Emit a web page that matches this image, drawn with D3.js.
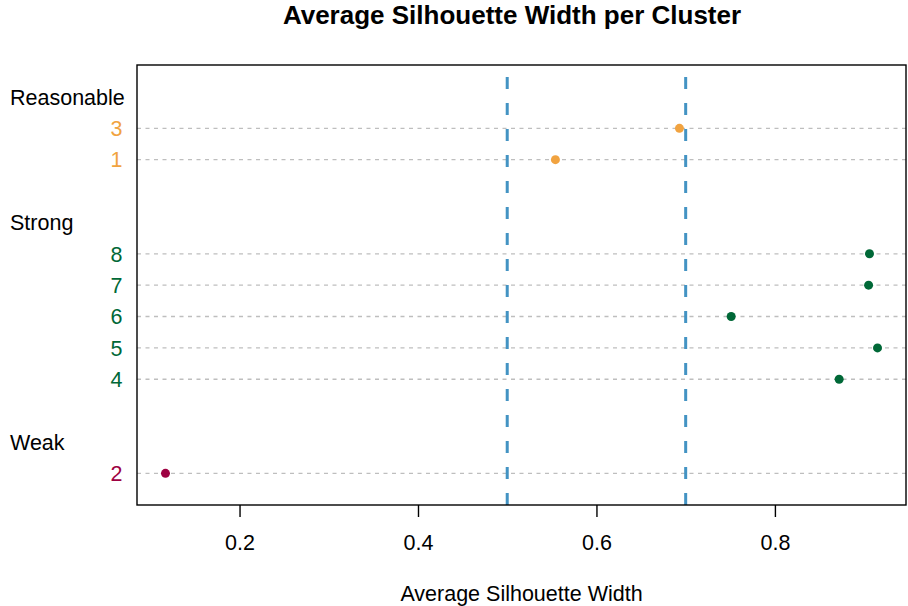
<!DOCTYPE html>
<html>
<head>
<meta charset="utf-8">
<script src="https://cdn.jsdelivr.net/npm/d3@7"></script>
<style>
  body { margin: 0; background: #fff; }
  svg { display: block; font-family: "Liberation Sans", Arial, Helvetica, sans-serif; }
</style>
</head>
<body>
<svg id="chart" width="908" height="606"></svg>
<script>
// ---- data ----
const groups = ["Reasonable", "Strong", "Weak"];
const groupColors = ["#F1A340", "#006837", "#9E0142"];
const clusterLabels = [["3", "1"], ["8", "7", "6", "5", "4"], ["2"]];
const clusterValues = [[0.693, 0.554], [0.906, 0.905, 0.751, 0.915, 0.872], [0.117]];
const thresholds = [0.5, 0.7];
const xTicks = [0.2, 0.4, 0.6, 0.8];
const title = "Average Silhouette Width per Cluster";
const xTitle = "Average Silhouette Width";

// ---- layout (R dotchart style positions) ----
const svg = d3.select("#chart");
const box = { left: 137, right: 906, top: 65, bottom: 505 };

const rows = [];
let pos = 0;
groups.forEach((g, gi) => {
  if (gi > 0) pos += 1; // gap line
  rows.push({ type: "group", label: g, pos: pos });
  pos += 1;
  clusterLabels[gi].forEach((lab, i) => {
    rows.push({ type: "item", label: lab, value: clusterValues[gi][i], color: groupColors[gi], pos: pos });
    pos += 1;
  });
});
const nRows = pos; // 13
rows.forEach(r => r.y = nRows - r.pos);

const allVals = clusterValues.flat();
const ext = d3.extent(allVals);
const pad = (ext[1] - ext[0]) * 0.04;
const x = d3.scaleLinear().domain([ext[0] - pad, ext[1] + pad]).range([box.left, box.right]);
const y = d3.scaleLinear().domain([0, nRows + 1]).range([box.bottom - 0.3, box.top + 0.6]);

const items = rows.filter(r => r.type === "item");
const grps = rows.filter(r => r.type === "group");

// gray dotted guide lines
svg.append("g").selectAll("line").data(items).join("line")
  .attr("x1", box.left).attr("x2", box.right)
  .attr("y1", d => y(d.y)).attr("y2", d => y(d.y))
  .attr("stroke", "#BEBEBE").attr("stroke-width", 1.3)
  .attr("stroke-dasharray", "4,4.5");

// points
svg.append("g").selectAll("circle").data(items).join("circle")
  .attr("cx", d => x(d.value)).attr("cy", d => y(d.y))
  .attr("r", 4.5).attr("fill", d => d.color);

// item labels
svg.append("g").selectAll("text").data(items).join("text")
  .attr("x", 122.5).attr("y", d => y(d.y) + 7.8)
  .attr("text-anchor", "end").attr("font-size", 21.5)
  .attr("fill", d => d.color).text(d => d.label);

// group labels
svg.append("g").selectAll("text").data(grps).join("text")
  .attr("x", 10).attr("y", d => y(d.y) + 7.8)
  .attr("text-anchor", "start").attr("font-size", 21.5)
  .attr("fill", "#000").text(d => d.label);

// threshold dashed lines (dash pattern starts at the bottom)
svg.append("g").selectAll("line").data(thresholds).join("line")
  .attr("x1", d => x(d)).attr("x2", d => x(d))
  .attr("y1", box.bottom).attr("y2", box.top)
  .attr("stroke", "#4393C3").attr("stroke-width", 3)
  .attr("stroke-dasharray", "12,14");

// plot box
svg.append("rect")
  .attr("x", box.left).attr("y", box.top)
  .attr("width", box.right - box.left).attr("height", box.bottom - box.top)
  .attr("fill", "none").attr("stroke", "#000").attr("stroke-width", 1.4);

// x axis
const axis = svg.append("g").attr("transform", `translate(0,${box.bottom})`)
  .call(d3.axisBottom(x).tickValues(xTicks).tickFormat(d3.format(".1f")).tickSize(12));
axis.select(".domain").remove();
axis.selectAll(".tick line").attr("stroke", "#000").attr("stroke-width", 1.4);
axis.selectAll(".tick text").attr("font-size", 21.5).attr("fill", "#000")
  .attr("font-family", "'Liberation Sans', Arial, sans-serif").attr("dy", 0).attr("y", 45);

// titles
svg.append("text").attr("x", 512).attr("y", 23.5)
  .attr("text-anchor", "middle").attr("font-size", 26).attr("font-weight", "bold")
  .text(title);
svg.append("text").attr("x", (box.left + box.right) / 2).attr("y", 600.5)
  .attr("text-anchor", "middle").attr("font-size", 21.5)
  .text(xTitle);
</script>
</body>
</html>
